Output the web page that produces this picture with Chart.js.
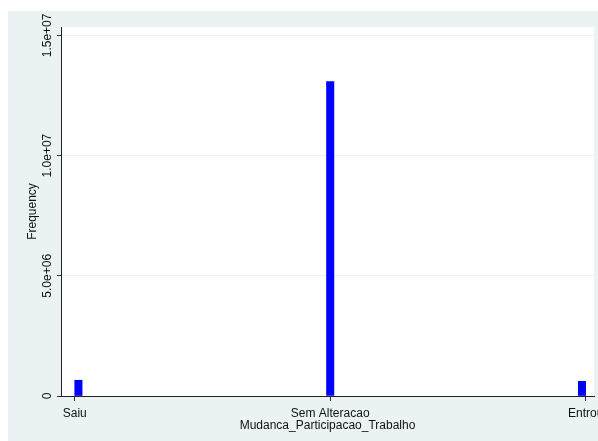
<!DOCTYPE html>
<html>
<head>
<meta charset="utf-8">
<script src="https://cdn.jsdelivr.net/npm/chart.js@4/dist/chart.umd.min.js"></script>
<style>
  html, body { margin: 0; padding: 0; background: #fff; overflow: hidden; }
  #wrap { width: 640px; height: 441px; }
</style>
</head>
<body>
<div id="wrap"><canvas id="c" width="640" height="441"></canvas></div>
<script>
// Mudanca_Participacao_Trabalho coded 0/1/2
const categories = ['Saiu', 'Sem Alteracao', 'Entrou'];
const codes = [0, 1, 2];
const frequencies = [655000, 13080000, 610000];
const yTicks = [0, 5000000, 10000000, 15000000];
const yTickLabels = ['0', '5.0e+06', '1.0e+07', '1.5e+07'];

// histogram bins: 69 bins across 0..2, first/last bins start/end on the codes
const nBins = 69;
const binWidth = (codes[2] - codes[0]) / nBins;
const binCenters = [codes[0] + binWidth / 2, codes[1], codes[2] - binWidth / 2];

const bgColor = '#EAF2F3';
const font = { family: 'Liberation Sans, Arial, sans-serif', size: 12 };

const background = {
  id: 'background',
  beforeDraw(chart) {
    const { ctx, chartArea: a } = chart;
    ctx.save();
    ctx.fillStyle = '#fff';
    ctx.fillRect(0, 0, chart.width, chart.height);
    ctx.fillStyle = bgColor;
    ctx.fillRect(8, 11, chart.width - 8, chart.height - 11);
    ctx.fillStyle = '#fff';
    ctx.fillRect(a.left, a.top, a.right - a.left, a.bottom - a.top);
    ctx.restore();
  }
};

new Chart(document.getElementById('c'), {
  type: 'bar',
  data: {
    datasets: [{
      data: binCenters.map((x, i) => ({ x: x, y: frequencies[i] })),
      backgroundColor: '#0000FF',
      borderWidth: 0,
      barThickness: 7.4,
    }],
  },
  options: {
    responsive: false,
    animation: false,
    layout: { padding: { left: 8, top: 27, right: 46, bottom: 0 } },
    plugins: { legend: { display: false }, tooltip: { enabled: false } },
    scales: {
      x: {
        type: 'linear',
        offset: false,
        min: -0.0537,
        max: 2.0325,
        afterBuildTicks: (scale) => { scale.ticks = codes.map((v) => ({ value: v })); },
        afterFit: (scale) => { scale.height = 45; },
        grid: { offset: false, drawOnChartArea: false, drawTicks: true, tickLength: 5, tickColor: '#333' },
        border: { color: '#222', width: 1 },
        ticks: {
          font: font,
          color: '#111',
          padding: 5.5,
          maxRotation: 0,
          autoSkip: false,
          callback: (v) => categories[codes.indexOf(v)],
        },
        title: {
          display: true,
          text: 'Mudanca_Participacao_Trabalho',
          font: font,
          color: '#111',
          padding: { top: 0, bottom: 8.5 },
        },
      },
      y: {
        min: 0,
        max: 15350000,
        afterBuildTicks: (scale) => { scale.ticks = yTicks.map((v) => ({ value: v })); },
        afterFit: (scale) => { scale.width = 53; },
        grid: { color: bgColor, lineWidth: 1, tickLength: 4, tickColor: '#333' },
        border: { color: '#222', width: 1 },
        ticks: {
          font: font,
          color: '#111',
          minRotation: 90,
          maxRotation: 90,
          crossAlign: 'center',
          padding: -12.5,
          autoSkip: false,
          callback: (v) => yTickLabels[yTicks.indexOf(v)],
        },
        title: {
          display: true,
          text: 'Frequency',
          font: font,
          color: '#111',
          padding: { top: 17, bottom: 0 },
        },
      },
    },
  },
  plugins: [background],
});
</script>
</body>
</html>
